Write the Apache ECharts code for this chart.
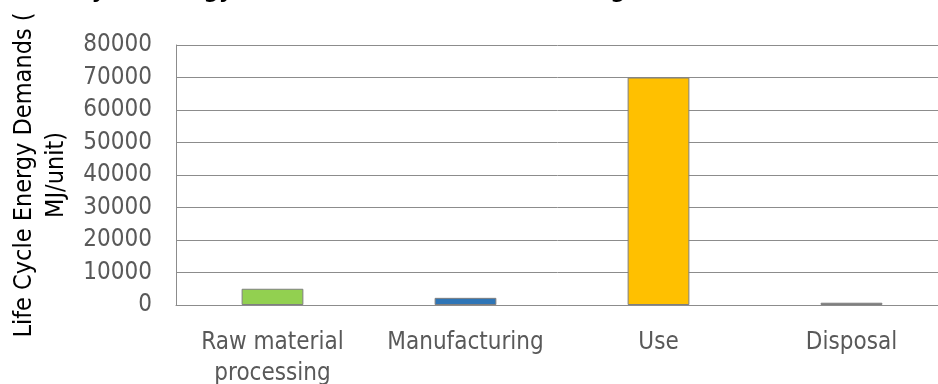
<!DOCTYPE html>
<html>
<head>
<meta charset="utf-8">
<script src="https://cdn.jsdelivr.net/npm/echarts@6/dist/echarts.min.js"></script>
<style>
  html, body { margin: 0; padding: 0; background: #fff; }
  #chart { width: 938px; height: 384px; }
</style>
</head>
<body>
<div id="chart"></div>
<script>
// stages of the life cycle and their energy demand (MJ/unit)
const stages = ['Raw material\nprocessing', 'Manufacturing', 'Use', 'Disposal'];
const demand = [5000, 2200, 70000, 700];
const barColors = ['#92D050', '#2E75B6', '#FFC000', '#808080'];
const yTicks = { min: 0, max: 80000, interval: 10000 };

const font = '"DejaVu Sans Condensed", "DejaVu Sans", sans-serif';

const chart = echarts.init(document.getElementById('chart'), null, { renderer: 'canvas' });

chart.setOption({
  animation: false,
  title: {
    // only the lower edge of the title survives in the source picture
    text: 'Life Cycle Energy Demands of a Household Refrigerator',
    left: 18,
    top: -26,
    textStyle: { fontFamily: font, fontWeight: 'bold', fontSize: 24, color: '#000' }
  },
  grid: { left: 176, right: -10, top: 45, bottom: 79, outerBoundsMode: 'none', containLabel: false },
  xAxis: {
    type: 'category',
    data: stages,
    axisLine: { show: true, lineStyle: { color: '#8c8c8c', width: 1 } },
    axisTick: { show: false },
    axisLabel: {
      color: '#595959',
      fontFamily: font,
      fontSize: 24,
      lineHeight: 31,
      margin: 22,
      interval: 0
    }
  },
  yAxis: {
    type: 'value',
    min: yTicks.min,
    max: yTicks.max,
    interval: yTicks.interval,
    name: 'Life Cycle Energy Demands (\nMJ/unit)',
    nameLocation: 'middle',
    nameGap: 100,
    nameTextStyle: { color: '#000', fontFamily: font, fontSize: 25, lineHeight: 32 },
    axisLine: { show: true, lineStyle: { color: '#8c8c8c', width: 1 } },
    axisTick: { show: false },
    axisLabel: {
      color: '#595959',
      fontFamily: font,
      fontSize: 24,
      margin: 24,
      formatter: (v) => String(v)
    },
    splitLine: { show: true, lineStyle: { color: '#8c8c8c', width: 1 } }
  },
  series: [{
    type: 'bar',
    barWidth: '32%',
    data: demand.map((v, i) => ({
      value: v,
      itemStyle: { color: barColors[i], borderColor: '#7f7f7f', borderWidth: 1 }
    }))
  }]
});
</script>
</body>
</html>
